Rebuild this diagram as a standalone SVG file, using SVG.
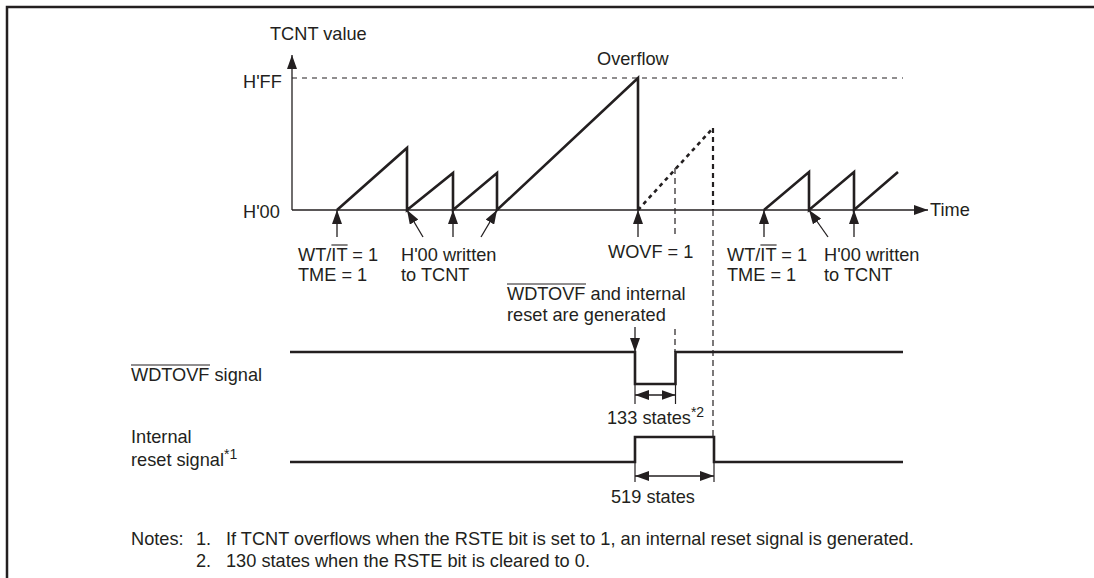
<svg xmlns="http://www.w3.org/2000/svg" width="1094" height="578" viewBox="0 0 1094 578">
<defs>
<style>
text{font-family:"Liberation Sans",Arial,Helvetica,sans-serif;font-size:18.2px;fill:#231f20}
.sup{font-size:14px}
.ax{stroke:#231f20;stroke-width:1.3;fill:none}
.thick{stroke:#231f20;stroke-width:2.6;fill:none;stroke-linejoin:miter;stroke-linecap:butt}
.thin{stroke:#231f20;stroke-width:1.2;fill:none}
.dash{stroke:#231f20;stroke-width:1.2;fill:none;stroke-dasharray:6,4}
.dotted{stroke:#231f20;stroke-width:2.6;fill:none;stroke-dasharray:4,4}
.dash2{stroke:#231f20;stroke-width:2.2;fill:none;stroke-dasharray:5,4}
.ol{stroke:#231f20;stroke-width:1.1}
.arr{stroke:#231f20;stroke-width:1.3;fill:none;marker-end:url(#ah)}
.dim{stroke:#231f20;stroke-width:1.3;fill:none;marker-start:url(#ah);marker-end:url(#ah)}
</style>
<marker id="ah" viewBox="0 0 14 10" refX="14" refY="5" markerWidth="14" markerHeight="10" markerUnits="userSpaceOnUse" orient="auto-start-reverse">
<path d="M0,0 L14,5 L0,10 z" fill="#231f20"/>
</marker>
</defs>

<g id="frame">
<path d="M7,578 V7 H1094" stroke="#231f20" stroke-width="2.5" fill="none"/>
</g>

<g id="axes">
<line class="ax" x1="292" y1="210" x2="292" y2="55" marker-end="url(#ah)"/>
<line class="ax" x1="292" y1="210" x2="928" y2="210" marker-end="url(#ah)"/>
<line class="dash" x1="292" y1="78" x2="903" y2="78" style="stroke-dasharray:5,5"/>
<text x="270" y="40">TCNT value</text>
<text x="243" y="88">H'FF</text>
<text x="243" y="218">H'00</text>
<text x="930" y="216">Time</text>
<text x="597" y="65">Overflow</text>
</g>

<g id="tcnt-waveform">
<polyline class="thick" points="337,210 407,148 407,210 453,173 453,210 497,173 497,210 638,78 638,210"/>
<line class="dotted" x1="638" y1="210" x2="713" y2="128"/>
<line class="dash2" x1="713" y1="128" x2="713" y2="210"/>
<polyline class="thick" points="764,210 809,172 809,210 854,172 854,210 898,172"/>
</g>

<g id="connectors">
<line class="arr" x1="337" y1="237" x2="337" y2="210"/>
<line class="arr" x1="423" y1="237" x2="407" y2="210"/>
<line class="arr" x1="453" y1="237" x2="453" y2="210"/>
<line class="arr" x1="481" y1="237" x2="497" y2="210"/>
<line class="arr" x1="638" y1="237" x2="638" y2="210"/>
<line class="arr" x1="764" y1="237" x2="764" y2="210"/>
<line class="arr" x1="828" y1="237" x2="809" y2="210"/>
<line class="arr" x1="854" y1="237" x2="854" y2="210"/>
<line class="arr" x1="635" y1="327" x2="635" y2="352"/>
<line class="dash" x1="675" y1="168" x2="675" y2="234"/>
<line class="dash" x1="675" y1="329" x2="675" y2="352"/>
<line class="dash" x1="713" y1="210" x2="713" y2="437"/>
<line class="thin" x1="635" y1="385" x2="635" y2="404"/>
<line class="thin" x1="675.5" y1="385" x2="675.5" y2="404"/>
<line class="dim" x1="635" y1="395" x2="675.5" y2="395"/>
<line class="thin" x1="635" y1="463" x2="635" y2="482"/>
<line class="thin" x1="714" y1="463" x2="714" y2="482"/>
<line class="dim" x1="635" y1="476" x2="714" y2="476"/>
</g>

<g id="labels-top">
<text x="298" y="261">WT/IT = 1</text>
<line class="ol" x1="331.4" y1="245" x2="347.6" y2="245"/>
<text x="298" y="281">TME = 1</text>
<text x="401" y="261">H'00 written</text>
<text x="401" y="281">to TCNT</text>
<text x="608" y="258">WOVF = 1</text>
<text x="727" y="261">WT/IT = 1</text>
<line class="ol" x1="760.4" y1="245" x2="776.6" y2="245"/>
<text x="727" y="281">TME = 1</text>
<text x="824" y="261">H'00 written</text>
<text x="824" y="281">to TCNT</text>
<text x="507" y="300">WDTOVF and internal</text>
<line class="ol" x1="507" y1="284" x2="586" y2="284"/>
<text x="507" y="321">reset are generated</text>
</g>

<g id="wdtovf-signal">
<text x="131" y="381">WDTOVF signal</text>
<line class="ol" x1="131" y1="365" x2="210" y2="365"/>
<polyline class="thick" points="290,352 635,352 635,384 675.5,384 675.5,352 903,352"/>
<text x="607" y="424">133 states<tspan class="sup" dy="-7">*2</tspan></text>
</g>

<g id="reset-signal">
<text x="131" y="443">Internal</text>
<text x="131" y="466">reset signal<tspan class="sup" dy="-7">*1</tspan></text>
<polyline class="thick" points="290,462 635,462 635,437 714,437 714,462 903,462"/>
<text x="611" y="503">519 states</text>
</g>

<g id="notes">
<text x="131" y="545">Notes:</text>
<text x="196" y="545">1.</text>
<text x="226" y="545">If TCNT overflows when the RSTE bit is set to 1, an internal reset signal is generated.</text>
<text x="196" y="567">2.</text>
<text x="226" y="567">130 states when the RSTE bit is cleared to 0.</text>
</g>
</svg>
